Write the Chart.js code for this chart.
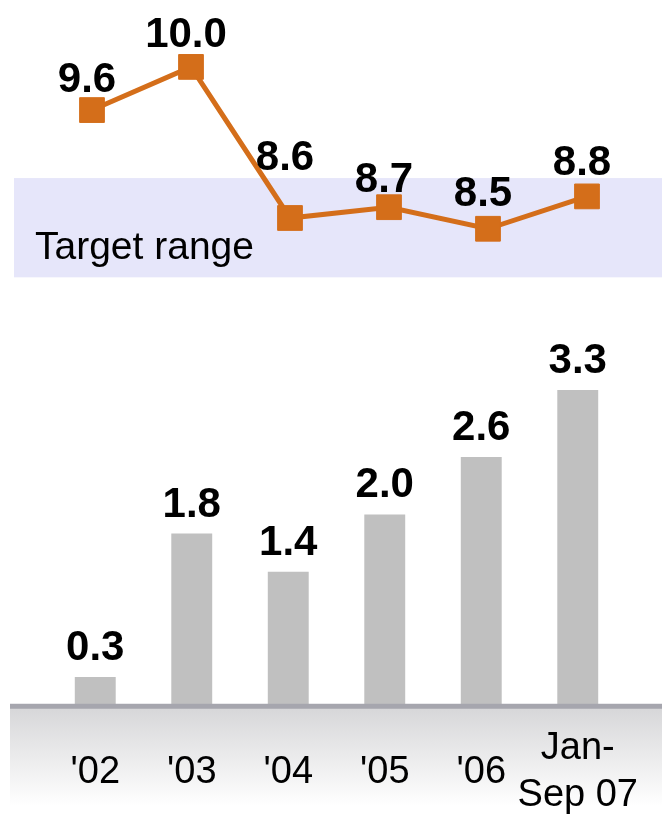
<!DOCTYPE html>
<html>
<head>
<meta charset="utf-8">
<script src="https://cdn.jsdelivr.net/npm/chart.js@4.4.1/dist/chart.umd.min.js"></script>
<style>
html, body { margin: 0; padding: 0; background: #fff; overflow: hidden; }
#wrap { position: relative; width: 662px; height: 814px; overflow: hidden; }
#lineChart { position: absolute; left: 0; top: 0; }
#barChart { position: absolute; left: 0; top: 302px; }
</style>
</head>
<body>
<div id="wrap">
  <canvas id="lineChart" width="662" height="300"></canvas>
  <canvas id="barChart" width="662" height="544"></canvas>
</div>
<script>
const periods = ["'02", "'03", "'04", "'05", "'06", ["Jan-", "Sep 07"]];
const lineValues = [9.6, 10.0, 8.6, 8.7, 8.5, 8.8];
const barValues = [0.3, 1.8, 1.4, 2.0, 2.6, 3.3];
const targetRange = [8.05, 8.97];
const targetLabel = 'Target range';

const FONT = '"Liberation Sans", Arial, sans-serif';
const ORANGE = '#d46e1a';

// value labels above points / bars
const valueLabels = {
    id: 'valueLabels',
    afterDatasetsDraw(chart, args, opts) {
        const ctx = chart.ctx;
        const meta = chart.getDatasetMeta(0);
        const data = chart.data.datasets[0].data;
        ctx.save();
        ctx.font = 'bold 42px ' + FONT;
        ctx.fillStyle = '#000';
        ctx.textAlign = 'center';
        ctx.textBaseline = 'alphabetic';
        meta.data.forEach((el, i) => {
            const lift = Array.isArray(opts.lift) ? opts.lift[i] : opts.lift;
            ctx.fillText(data[i].toFixed(1), el.x + (opts.dx || 0), el.y - lift);
        });
        ctx.restore();
    }
};

// shaded target band behind the line
const targetBand = {
    id: 'targetBand',
    beforeDatasetsDraw(chart) {
        const ctx = chart.ctx;
        const y = chart.scales.y;
        const top = y.getPixelForValue(targetRange[1]);
        const bot = y.getPixelForValue(targetRange[0]);
        ctx.save();
        ctx.fillStyle = '#e6e6fa';
        ctx.fillRect(14, top, chart.width - 14, bot - top);
        ctx.font = '39px ' + FONT;
        ctx.fillStyle = '#000';
        ctx.textAlign = 'left';
        ctx.textBaseline = 'alphabetic';
        ctx.fillText(targetLabel, 35, bot - 18);
        ctx.restore();
    }
};

// grey base line with soft gradient under it
const baseAxis = {
    id: 'baseAxis',
    beforeDraw(chart) {
        const ctx = chart.ctx;
        const b = chart.chartArea.bottom;
        const g = ctx.createLinearGradient(0, b, 0, b + 100);
        g.addColorStop(0, '#d6d6d8');
        g.addColorStop(1, '#ffffff');
        ctx.save();
        ctx.fillStyle = g;
        ctx.fillRect(10, b, chart.width - 10, 100);
        ctx.restore();
    },
    afterDatasetsDraw(chart) {
        const ctx = chart.ctx;
        const b = chart.chartArea.bottom;
        ctx.save();
        ctx.fillStyle = '#a6a6ae';
        ctx.fillRect(10, b - 2, chart.width - 10, 5);
        ctx.restore();
    }
};

new Chart(document.getElementById('lineChart'), {
    type: 'line',
    data: {
        labels: periods,
        datasets: [{
            data: lineValues,
            borderColor: ORANGE,
            backgroundColor: ORANGE,
            borderWidth: 5,
            pointStyle: 'rect',
            pointRadius: 17.5,
            pointBorderWidth: 1,
            pointBackgroundColor: ORANGE,
            pointBorderColor: ORANGE,
            tension: 0,
            clip: false
        }]
    },
    options: {
        responsive: false,
        animation: false,
        layout: { autoPadding: false, padding: { left: 92, right: 75, top: 0, bottom: 0 } },
        plugins: {
            legend: { display: false },
            tooltip: { enabled: false },
            valueLabels: { lift: [18, 20, 48, 15, 23, 21], dx: -5 }
        },
        scales: {
            x: { display: false, offset: false },
            y: { display: false, min: 7.84, max: 10.62 }
        }
    },
    plugins: [targetBand, valueLabels]
});

new Chart(document.getElementById('barChart'), {
    type: 'bar',
    data: {
        labels: periods,
        datasets: [{
            data: barValues,
            backgroundColor: '#c0c0c0',
            barPercentage: 0.424,
            categoryPercentage: 1
        }]
    },
    options: {
        responsive: false,
        animation: false,
        layout: { padding: { left: 47, right: 36, top: 0, bottom: 0 } },
        plugins: {
            legend: { display: false },
            tooltip: { enabled: false },
            valueLabels: { lift: 17, dx: 0 }
        },
        scales: {
            x: {
                offset: true,
                grid: { display: false, drawTicks: true, tickLength: 40 },
                border: { display: false },
                ticks: {
                    color: '#000',
                    padding: 3,
                    maxRotation: 0,
                    autoSkip: false,
                    crossAlign: 'center',
                    font: { family: FONT, size: 38, lineHeight: 1.24 }
                }
            },
            y: { display: false, min: 0, max: 4.22 }
        }
    },
    plugins: [baseAxis, valueLabels]
});
</script>
</body>
</html>
